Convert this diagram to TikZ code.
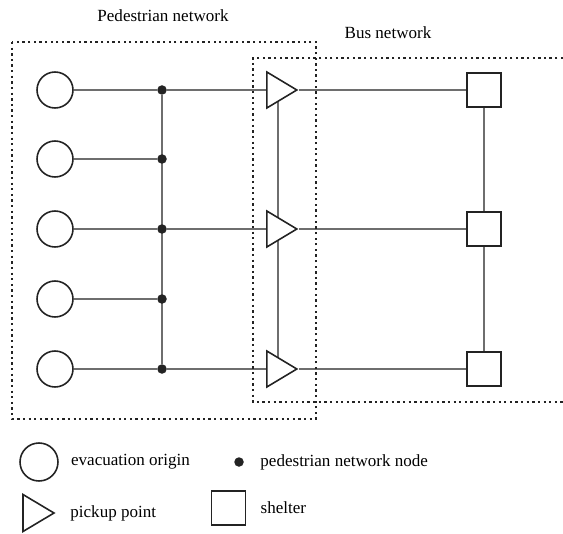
\documentclass[tikz,border=0pt]{standalone}
\usepackage{fontspec}
\setmainfont{Liberation Serif}
\usetikzlibrary{shapes.geometric,positioning,backgrounds}
\definecolor{linegray}{RGB}{110,110,110}
\definecolor{darkline}{RGB}{35,35,35}

\begin{document}
\begin{tikzpicture}[x=0.02cm, y=-0.02cm, font=\fontsize{9.7}{11}\selectfont,
    origin/.style={circle, draw=darkline, line width=0.9pt, fill=white, minimum size=0.72cm, inner sep=0pt},
    pnode/.style={circle, fill=darkline, minimum size=0.19cm, inner sep=0pt},
    pickup/.style={isosceles triangle, isosceles triangle stretches, draw=darkline, line width=0.9pt, fill=white, minimum width=0.72cm, minimum height=0.6cm, inner sep=0pt},
    shelter/.style={rectangle, draw=darkline, line width=0.9pt, fill=white, minimum size=0.68cm, inner sep=0pt},
    link/.style={linegray, line width=0.8pt},
    zone/.style={darkline, line width=0.8pt, dash pattern=on 1.3pt off 1.9pt},
    legtext/.style={inner sep=0pt}]

    \useasboundingbox (0,0) rectangle (563,533);

    % network nodes
    \foreach \i/\y in {1/90,2/159,3/229,4/299,5/369} {
        \node[origin] (o\i) at (55,\y) {};
        \node[pnode] (p\i) at (162,\y) {};
    }
    \foreach \i/\y in {1/90,2/229,3/369} {
        \node[pickup] (k\i) at (277,\y) {};
        \node[shelter] (s\i) at (484,\y) {};
    }

    % links
    \begin{scope}[on background layer]
        \foreach \i in {1,...,5} \draw[link] (o\i) -- (p\i);
        \draw[link] (p1) -- (p5);
        \draw[link] (p1) -- (k1);
        \draw[link] (p3) -- (k2);
        \draw[link] (p5) -- (k3);
        \draw[link] ([xshift=0.02cm]k1.center) -- ([xshift=0.02cm]k3.center);
        \foreach \i in {1,2,3} \draw[link] (k\i.apex) -- (s\i);
        \draw[link] (s1) -- (s3);
    \end{scope}

    % sub-networks
    \draw[zone] (12,42) rectangle (316,419);
    \draw[zone] (563,58) -- (253,58) -- (253,402) -- (563,402);
    \node (pedtitle) at (163,16) {Pedestrian network};
    \node (bustitle) at (388,33) {Bus network};

    % legend
    \node[origin, minimum size=0.76cm] (lo) at (39,462) {};
    \node[legtext, right=0.24cm of lo] (lotext) {evacuation origin};
    \node[pnode] (lp) at (239,462) {};
    \node[legtext, right=0.32cm of lp] (lptext) {pedestrian network node};
    \node[pickup, minimum width=0.74cm, minimum height=0.62cm] (lk) at (33.5,513) {};
    \node[legtext, right=0.28cm of lk.apex] (lktext) {pickup point};
    \node[shelter] (ls) at (228.5,508) {};
    \node[legtext, right=0.28cm of ls] (lstext) {shelter};
\end{tikzpicture}
\end{document}
